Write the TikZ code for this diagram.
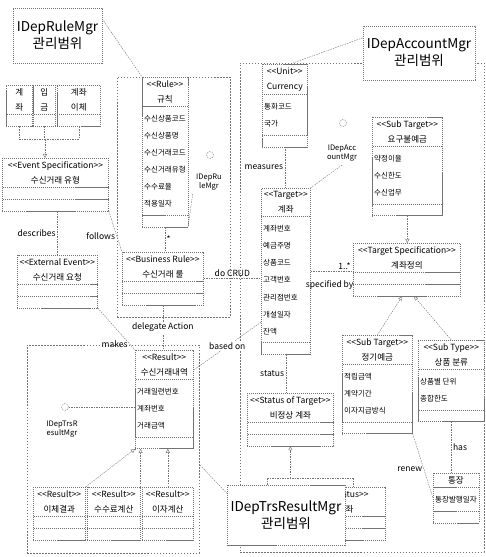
\documentclass[tikz,border=0pt]{standalone}
\usepackage{fontspec}
\setmainfont{Noto Sans CJK KR}
\usetikzlibrary{arrows.meta,shapes.multipart,fit}

\newcommand{\attrs}[1]{{\fontsize{7.5}{17}\selectfont\begin{tabular}{@{}l@{}}#1\end{tabular}}}
\newcommand{\stereo}[1]{<{}<#1>{}>}

\begin{document}
\begin{tikzpicture}[
        x=0.035cm, y=-0.035cm,
        font=\fontsize{8.5}{15}\selectfont,
        cls/.style={rectangle split, rectangle split parts=3, draw=black!55, dash pattern=on 1.2pt off 0.8pt, fill=white, align=center, inner xsep=2pt, inner ysep=3pt, rectangle split part align={center,left,left}, rectangle split empty part height=4pt, anchor=north west},
        mgr/.style={rectangle, draw=black!55, dash pattern=on 1.2pt off 0.8pt, fill=white, align=center, font=\fontsize{13.5}{17}\selectfont},
        region/.style={rectangle, draw=black!55, dash pattern=on 1.5pt off 1.5pt, inner sep=0pt},
        lolli/.style={circle, draw=black!55, dash pattern=on 1pt off 0.8pt, minimum size=7pt, inner sep=0pt},
        ilabel/.style={align=center, font=\fontsize{7.5}{9.5}\selectfont},
        link/.style={draw=black!55, dash pattern=on 1.5pt off 1pt},
        gen/.style={link, -{Triangle[open,length=4pt,width=4pt]}},
        lbl/.style={font=\fontsize{8.5}{10}\selectfont, inner sep=1.5pt},
    ]
    \useasboundingbox (0,0) rectangle (485,557);

    % management regions
    \node[region, fit={(117,77) (230,317)}] (ruleregion) {};
    \node[region, fit={(240,63) (484,552)}] (acctregion) {};
    \node[region, fit={(27,345) (199,553)}] (resregion) {};

    % rule side
    \node[mgr, minimum width=89pt, minimum height=55pt] (rulemgr) at (57.5,35.5) {IDepRuleMgr\\관리범위};
    \node[cls, rectangle split parts=2, minimum width=26pt] (evacct) at (6,85) {계\\좌\nodepart{two}};
    \node[cls, rectangle split parts=2, minimum width=22pt] (evdep) at (33,85) {입\\금\nodepart{two}};
    \node[cls, rectangle split parts=2, minimum width=43pt] (evtrf) at (57,85) {계좌\\이체\nodepart{two}};
    \node[cls, minimum width=106pt] (evspec) at (2,158) {\stereo{Event Specification}\\수신거래 유형\nodepart{two}\nodepart{three}};
    \node[cls, minimum width=80pt] (extev) at (17,255) {\stereo{External Event}\\수신거래 요청\nodepart{two}\nodepart{three}};
    \node[cls, minimum width=41pt] (rule) at (142,77) {\stereo{Rule}\\규칙\nodepart{two}\attrs{수신상품코드\\수신상품명\\수신거래코드\\수신거래유형\\수수료율\\적용일자}\nodepart{three}};
    \node[lolli] (rulelol) at (210,155) {};
    \node[ilabel] (rulelolt) at (209,182) {IDepRu\\leMgr};
    \node[cls, minimum width=81pt] (bizrule) at (122,252) {\stereo{Business Rule}\\수신거래 룰\nodepart{two}\nodepart{three}};

    % account side
    \node[mgr, minimum width=112pt, minimum height=54pt] (acctmgr) at (419,53) {IDepAccountMgr\\관리범위};
    \coordinate (acctanchor) at (293,63);
    \node[cls, minimum width=45pt] (unit) at (262,64) {\stereo{Unit}\\Currency\nodepart{two}\attrs{통화코드\\국가}\nodepart{three}};
    \node[lolli] (acctlol) at (343,123) {};
    \node[ilabel] (acctlolt) at (342,153) {IDepAcc\\ountMgr};
    \node[cls, minimum width=49pt] (target) at (261,188) {\stereo{Target}\\계좌\nodepart{two}\attrs{계좌번호\\예금주명\\상품코드\\고객번호\\관리점번호\\개설일자\\잔액}\nodepart{three}};
    \node[cls, minimum width=70pt] (subtgt1) at (372,117) {\stereo{Sub Target}\\요구불예금\nodepart{two}\attrs{약정이율\\수신한도\\수신업무}\nodepart{three}};
    \node[cls, minimum width=107pt] (tspec) at (353,243) {\stereo{Target Specification}\\계좌정의\nodepart{two}\nodepart{three}};
    \node[cls, minimum width=70pt] (subtgt2) at (342,335) {\stereo{Sub Target}\\정기예금\nodepart{two}\attrs{적립금액\\계약기간\\이자지급방식}\nodepart{three}};
    \node[cls, minimum width=66pt] (subtype) at (418,340) {\stereo{Sub Type}\\상품 분류\nodepart{two}\attrs{상품별 단위\\종합한도}\nodepart{three}};
    \node[cls, minimum width=44pt] (passbook) at (433,473) {통장\nodepart{two}\attrs{통장발행일자}\nodepart{three}};
    \node[cls, minimum width=86pt] (status) at (247,393) {\stereo{Status of Target}\\비정상 계좌\nodepart{two}\nodepart{three}};
    \node[cls, minimum width=95pt] (substat) at (290,487) {\stereo{Sub Status}\\사고계좌\nodepart{two}\nodepart{three}};

    % result side
    \node[cls, minimum width=58pt] (result) at (135,350) {\stereo{Result}\\수신거래내역\nodepart{two}\attrs{거래일련번호\\계좌번호\\거래금액}\nodepart{three}};
    \node[lolli] (trslol) at (65,407) {};
    \node[ilabel] (trslolt) at (62,429) {IDepTrsR\\esultMgr};
    \node[cls, minimum width=52pt] (res1) at (33,487) {\stereo{Result}\\이체결과\nodepart{two}\nodepart{three}};
    \node[cls, minimum width=53pt] (res2) at (87,487) {\stereo{Result}\\수수료계산\nodepart{two}\nodepart{three}};
    \node[cls, minimum width=51pt] (res3) at (142,487) {\stereo{Result}\\이자계산\nodepart{two}\nodepart{three}};

    % connectors
    \coordinate (evjoin) at (45,139);
    \draw[link] (rulemgr.20) -- (rule.north west);
    \draw[link] (acctmgr.165) -- (acctanchor);
    \draw[link] (evacct.south) |- (evjoin);
    \draw[link] (evtrf.south) |- (evjoin);
    \draw[link] (evdep.south) -- (evdep.south |- evjoin);
    \draw[gen] (evjoin) -- (evjoin |- evspec.north);
    \draw[link] (extev.north |- evspec.south) -- node[lbl, left]{describes} (extev.north);
    \draw[link] (evspec.south east) -- node[lbl, left, pos=0.6]{follows} (bizrule.north west);
    \draw[link] (rule.south) -- node[lbl, right]{*} (rule.south |- bizrule.north);
    \draw[link] (rulelolt.south west) -- (rule.south east);
    \draw[link] (bizrule.east) -- node[lbl, above]{do CRUD} (bizrule.east -| target.west);
    \draw[link] (bizrule.south) -- node[lbl, fill=white]{delegate Action} (bizrule.south |- result.north);
    \draw[link] (extev.south east) -- node[lbl, left, pos=0.85]{makes} (result.north west);
    \draw[link] (target.244) -- node[lbl, fill=white, pos=0.5]{based on} (result.45);
    \draw[link] (unit.south) -- node[lbl, left]{measures} (unit.south |- target.north);
    \draw[link] (acctlolt.south) -- (target.north east);
    \draw[link] (target.east) -- node[lbl, above, pos=0.8]{1..*} node[lbl, below=8pt, pos=0.45]{specified by} (target.east -| tspec.west);
    \draw[gen] (subtgt1.south) -- (subtgt1.south |- tspec.north);
    \draw[gen] (subtgt2.north) -- (tspec.-100);
    \draw[gen] (subtype.north) -- (tspec.-75);
    \draw[link] (subtype.south) -- node[lbl, right]{has} (subtype.south |- passbook.north);
    \draw[link] (subtgt2.south east) -- node[lbl, left, pos=0.55]{renew} (passbook.west);
    \draw[link] (target.south) -- node[lbl, left]{status} (target.south |- status.north);
    \coordinate (statl) at (267,478);
    \coordinate (statr) at (353,478);
    \draw[gen] (status.south |- statl) -- (status.south);
    \draw[link] (statl) -- (statr);
    \draw[link] (statl) -- (statl |- substat.north);
    \draw[link] (statr) -- (statr |- substat.north);
    \draw[gen] (res1.north east) -- (result.south west);
    \draw[gen] (res2.north east) -- (res2.north east |- result.south);
    \draw[gen] (res3.north) -- (res3.north |- result.south);
    \draw[link] (trslol) -- (trslol -| result.west);

    \node[mgr, minimum width=112pt, minimum height=60pt] (trsmgr) at (286,515) {IDepTrsResultMgr\\관리범위};
    \draw[link] (trsmgr.160) -- (resregion.-10);
\end{tikzpicture}
\end{document}
